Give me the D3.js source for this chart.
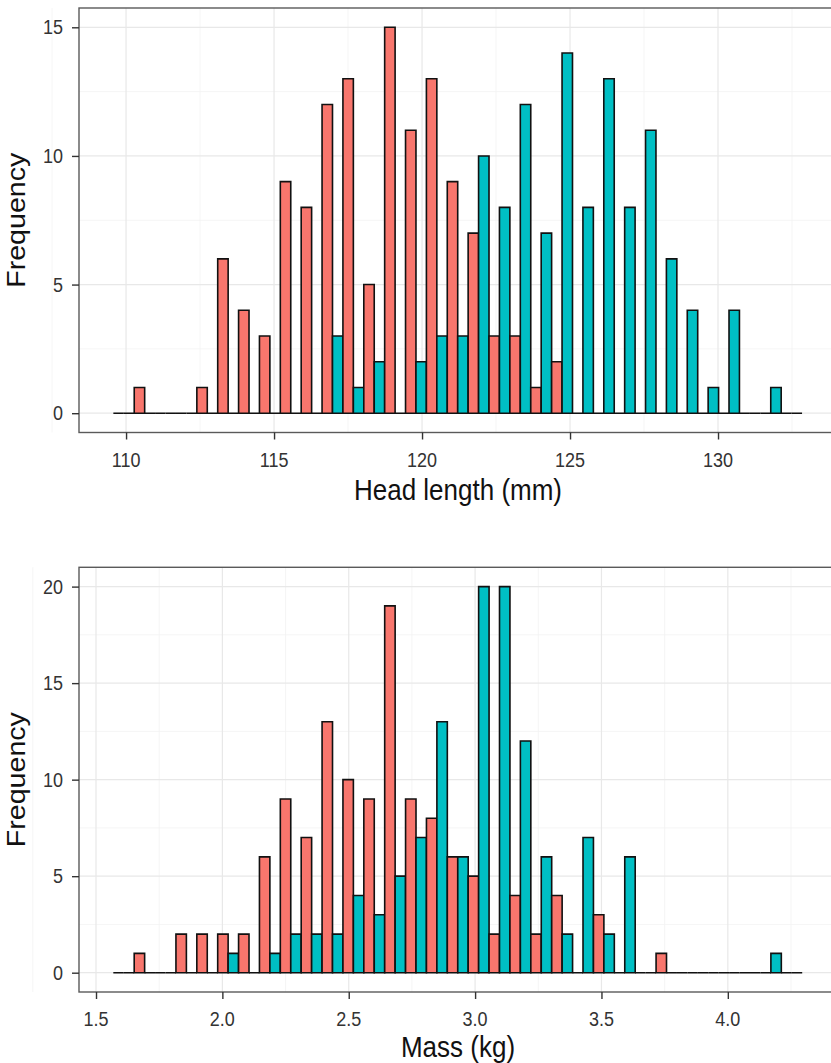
<!DOCTYPE html>
<html>
<head>
<meta charset="utf-8">
<script src="https://cdn.jsdelivr.net/npm/d3@7"></script>
<style>
  html, body { margin: 0; padding: 0; background: #ffffff; }
  svg { display: block; font-family: "Liberation Sans", Arial, sans-serif; }
</style>
</head>
<body>
<svg id="chart" width="831" height="1063"></svg>
<script>
// ---------- DATA ----------
// Head length histogram (33 bins, dodged: red group / teal group)
const headBinStart = 109.571;
const headBinWidth = 0.7051;
const headRed  = [0,1,0,0,1,6,4,3,9,8,12,13,5,15,11,13,9,7,3,3,1,2,0,0,0,0,0,0,0,0,0,0,0];
const headTeal = [0,0,0,0,0,0,0,0,0,0,3,1,2,0,2,3,3,10,8,12,7,14,8,13,8,11,6,4,1,4,0,1,0];
const headXTicks = [110, 115, 120, 125, 130];
const headYTicks = [0, 5, 10, 15];

// Mass histogram (33 bins)
const massBinStart = 1.5685;
const massBinWidth = 0.0826;
const massRed  = [0,1,0,2,2,2,2,6,9,7,13,10,9,19,9,8,6,5,2,4,2,4,0,3,0,0,1,0,0,0,0,0,0];
const massTeal = [0,0,0,0,0,1,0,1,2,2,2,4,3,5,7,13,6,20,20,12,6,2,7,2,6,0,0,0,0,0,0,1,0];
const massXTicks = [1.5, 2.0, 2.5, 3.0, 3.5, 4.0];
const massYTicks = [0, 5, 10, 15, 20];

const seriesColors = ["#F8766D", "#00BFC4"];

// ---------- DRAW ----------
const STRETCH = 1.1;   // text in the reference is slightly stretched vertically
const svg = d3.select("#chart");
svg.append("rect").attr("width", 831).attr("height", 1063).attr("fill", "#ffffff");

function label(g, x, y, txt, size, anchor, fill, rotate) {
  const t = g.append("text")
    .attr("x", 0).attr("y", 0)
    .attr("text-anchor", anchor)
    .attr("font-size", size)
    .attr("fill", fill)
    .text(txt);
  if (rotate) t.attr("transform", `translate(${x},${y}) rotate(-90) scale(${STRETCH},1)`);
  else t.attr("transform", `translate(${x},${y}) scale(1,${STRETCH})`);
  return t;
}

function panel(cfg) {
  const g = svg.append("g");
  const x = d3.scaleLinear().domain(cfg.xDomain).range([cfg.left, cfg.right]);
  const y = d3.scaleLinear().domain(cfg.yDomain).range([cfg.bottom, cfg.top]);

  // minor grid
  const step = cfg.xTicks[1] - cfg.xTicks[0];
  const xMinor = cfg.xTicks.map(t => t - step / 2).concat([cfg.xTicks[cfg.xTicks.length - 1] + step / 2]);
  const yMinor = cfg.yTicks.slice(0, -1).map((t, i) => (t + cfg.yTicks[i + 1]) / 2);
  g.selectAll(".xminor").data(xMinor).join("line")
    .attr("x1", d => x(d)).attr("x2", d => x(d))
    .attr("y1", cfg.top).attr("y2", cfg.bottom)
    .attr("stroke", "#f3f3f3").attr("stroke-width", 0.8);
  g.selectAll(".yminor").data(yMinor).join("line")
    .attr("x1", cfg.left).attr("x2", cfg.right)
    .attr("y1", d => y(d)).attr("y2", d => y(d))
    .attr("stroke", "#f3f3f3").attr("stroke-width", 0.8);
  // major grid
  g.selectAll(".xmajor").data(cfg.xTicks).join("line")
    .attr("x1", d => x(d)).attr("x2", d => x(d))
    .attr("y1", cfg.top).attr("y2", cfg.bottom)
    .attr("stroke", "#e8e8e8").attr("stroke-width", 1.2);
  g.selectAll(".ymajor").data(cfg.yTicks).join("line")
    .attr("x1", cfg.left).attr("x2", cfg.right)
    .attr("y1", d => y(d)).attr("y2", d => y(d))
    .attr("stroke", "#e8e8e8").attr("stroke-width", 1.2);

  // bars (paths so that zero-height bars still show their outline on the baseline)
  const bw = cfg.binWidth;
  const barData = [];
  cfg.red.forEach((r, i) => {
    const x0 = cfg.binStart + i * bw;
    barData.push({ x0: x0, x1: x0 + bw / 2, v: r, c: seriesColors[0] });
    barData.push({ x0: x0 + bw / 2, x1: x0 + bw, v: cfg.teal[i], c: seriesColors[1] });
  });
  g.selectAll(".bar").data(barData).join("path")
    .attr("d", d => {
      const p = d3.path();
      p.moveTo(x(d.x0), y(0));
      p.lineTo(x(d.x0), y(d.v));
      p.lineTo(x(d.x1), y(d.v));
      p.lineTo(x(d.x1), y(0));
      p.closePath();
      return p.toString();
    })
    .attr("fill", d => d.c)
    .attr("stroke", "#111111")
    .attr("stroke-width", 1.6)
    .attr("stroke-linejoin", "miter");

  // panel border
  g.append("rect")
    .attr("x", cfg.left).attr("y", cfg.top)
    .attr("width", cfg.right - cfg.left).attr("height", cfg.bottom - cfg.top)
    .attr("fill", "none").attr("stroke", "#5a5a5a").attr("stroke-width", 1.4);

  // axis ticks
  const xAxis = d3.axisBottom(x).tickValues(cfg.xTicks).tickSize(7).tickFormat("");
  const gx = g.append("g").attr("transform", `translate(0,${cfg.bottom})`).call(xAxis);
  gx.select(".domain").remove();
  gx.selectAll(".tick line").attr("stroke", "#333333").attr("stroke-width", 1.4);

  const yAxis = d3.axisLeft(y).tickValues(cfg.yTicks).tickSize(7).tickFormat("");
  const gy = g.append("g").attr("transform", `translate(${cfg.left},0)`).call(yAxis);
  gy.select(".domain").remove();
  gy.selectAll(".tick line").attr("stroke", "#333333").attr("stroke-width", 1.4);

  // tick labels
  const tickSize = 18;
  cfg.xTicks.forEach(t => label(g, x(t), cfg.bottom + 34, cfg.xFormat(t), tickSize, "middle", "#333333"));
  cfg.yTicks.forEach(t => label(g, cfg.left - 16, y(t) + 0.358 * tickSize * STRETCH, String(t), tickSize, "end", "#333333"));

  // titles
  label(g, (cfg.left + 837) / 2, cfg.xTitleY, cfg.xTitle, 26, "middle", "#111111");
  label(g, cfg.yTitleX, (cfg.top + cfg.bottom) / 2, "Frequency", 26, "middle", "#111111", true);
}

panel({
  left: 79, right: 837, top: 8, bottom: 432.5,
  xDomain: [108.41, 134.02], yDomain: [-0.75, 15.75],
  xTicks: headXTicks, yTicks: headYTicks,
  binStart: headBinStart, binWidth: headBinWidth,
  red: headRed, teal: headTeal,
  xFormat: d3.format("d"),
  xTitle: "Head length (mm)", xTitleY: 500, yTitleX: 25
});

panel({
  left: 79, right: 837, top: 567.3, bottom: 992,
  xDomain: [1.4327, 4.432], yDomain: [-1, 21],
  xTicks: massXTicks, yTicks: massYTicks,
  binStart: massBinStart, binWidth: massBinWidth,
  red: massRed, teal: massTeal,
  xFormat: d3.format(".1f"),
  xTitle: "Mass (kg)", xTitleY: 1057, yTitleX: 25
});
</script>
</body>
</html>
